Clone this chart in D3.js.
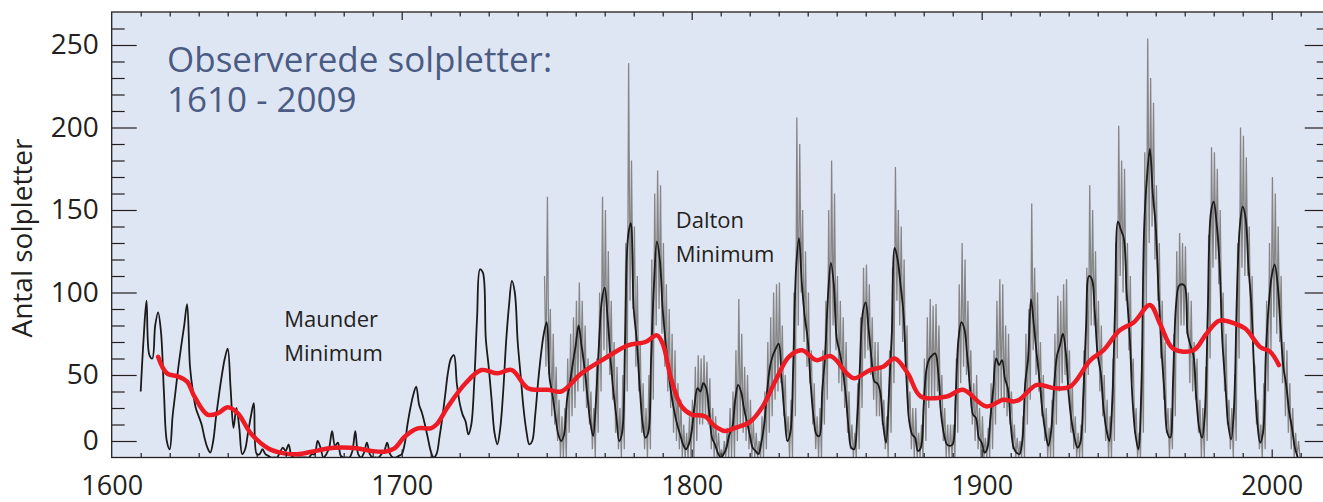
<!DOCTYPE html>
<html><head><meta charset="utf-8">
<script src="https://cdn.jsdelivr.net/npm/d3@7"></script>
<style>body{margin:0;background:#fff}svg{display:block}text{font-family:"Open Sans",sans-serif}</style>
</head><body><svg id="c" width="1323" height="502"></svg>
<script>
// ---------- DATA ----------
const blackStart = 1610;
const blackValues = [
 40,72,95,62,60,80,88,76,40,10,
 5,25,40,55,68,80,93,55,40,30,
 25,20,12,6,3,10,25,38,50,60,
 66,42,18,30,18,2,5,15,25,33,
 2,2,5,2,1,0,0,0,3,6,
 4,8,1,0,0,0,0,0,0,2,
 2,10,6,0,2,6,16,7,9,1,
 0,0,0,4,16,2,0,3,9,2,
 0,0,0,2,4,9,2,0,0,1,
 2,8,20,30,38,43,32,27,20,12,
 4,0,2,12,24,38,52,60,62,45,
 33,26,22,14,20,45,85,114,112,72,
 55,35,15,8,18,40,70,92,107,100,
 70,50,30,16,8,10,25,45,62,75,
 82,48,38,25,14,10,14,35,45,57,
 68,80,68,55,38,22,13,35,68,95,
 103,85,60,40,25,10,15,70,133,142,
 90,72,45,22,12,15,60,105,131,120,
 90,70,52,38,28,20,14,8,5,8,
 16,32,42,40,45,42,28,12,8,3,
 0,2,6,14,18,35,44,40,30,22,
 14,6,4,2,9,20,40,55,62,66,
 69,48,26,10,15,55,115,133,105,85,
 72,45,25,14,13,40,62,98,118,105,
 72,64,54,40,20,6,5,22,55,88,
 94,78,60,46,45,40,20,9,38,75,
 127,120,105,88,50,22,14,12,4,6,
 32,54,60,62,63,52,26,14,8,7,
 8,36,72,82,78,62,42,26,24,12,
 9,3,6,24,42,60,56,59,48,42,
 20,6,3,2,10,45,60,96,80,62,
 46,27,15,7,17,44,62,68,75,64,
 38,22,12,6,9,36,80,110,108,88,
 62,52,30,17,10,33,92,143,138,133,
 100,75,35,14,5,38,138,170,187,160,
 140,100,65,40,15,12,47,92,104,105,
 104,75,68,62,36,18,12,28,92,148,
 155,142,118,70,45,20,11,30,98,140,
 152,145,115,92,50,22,9,15,64,93,
 110,117,106,80,55,44,28,18,6,0
];

const grayStart = 1749;
const grayHigh = [110,
 158,90,75,55,35,25,30,60,75,85,
 95,106,95,80,60,40,30,60,100,158,
 150,125,95,70,55,30,50,130,239,180,
 140,110,70,45,30,50,120,160,174,165,
 130,105,90,75,65,45,35,20,15,25,
 35,55,62,60,62,58,48,30,25,15,
 5,10,18,30,40,65,96,75,55,50,
 35,22,15,10,25,40,70,85,100,105,
 106,80,50,25,35,100,206,190,150,125,
 100,65,45,25,30,65,95,150,180,160,
 110,95,85,70,40,20,15,45,85,115,
 117,105,85,70,70,55,35,25,65,115,
 176,150,140,120,80,40,30,30,15,20,
 60,85,96,92,93,80,50,30,20,20,
 20,60,105,130,120,95,65,45,50,30,
 25,12,18,45,65,95,108,105,80,75,
 40,20,12,10,25,75,90,154,115,100,
 70,50,30,18,35,75,98,95,105,108,
 65,45,25,15,20,65,115,165,150,125,
 95,80,50,35,25,60,130,201,180,175,
 130,110,60,30,15,65,185,254,230,215,
 165,130,95,70,30,30,75,125,136,130,
 128,100,95,70,60,35,30,55,135,188,
 185,175,150,100,75,35,30,50,130,200,
 195,182,140,110,55,35,20,45,95,130,
 170,160,140,110,70,65,45,30,15,10
];
const grayLow = [55,
 50,25,20,10,0,0,0,15,25,30,
 40,50,40,30,20,5,0,15,40,65,
 60,50,35,15,5,0,5,40,95,90,
 55,40,15,5,0,5,35,80,90,75,
 55,40,30,15,10,5,0,0,0,0,
 0,10,20,20,25,20,5,0,0,0,
 0,0,0,0,0,10,20,15,10,5,
 0,0,0,0,0,5,15,25,35,40,
 45,25,10,0,0,25,80,100,70,55,
 45,20,5,0,0,20,35,60,80,65,
 45,40,30,15,5,0,0,5,30,60,
 65,50,35,25,25,20,5,0,15,45,
 95,80,70,50,25,5,0,0,0,0,
 10,30,35,35,40,30,10,0,0,0,
 0,15,45,55,50,40,20,10,5,0,
 0,0,0,5,20,35,35,30,25,20,
 5,0,0,0,0,20,35,65,50,40,
 25,10,0,0,0,20,40,45,50,40,
 15,5,0,0,0,15,50,80,80,60,
 40,25,10,0,0,10,60,110,100,95,
 65,45,15,0,0,15,90,130,140,120,
 95,60,35,15,0,5,25,65,80,80,
 75,45,40,35,15,0,0,10,60,115,
 120,105,80,40,20,5,0,10,60,115,
 110,110,75,60,20,5,0,5,40,65,
 85,75,70,45,25,15,5,0,0,0
];

const redYears = [1616,1619,1623,1626,1628.5,1633,1636.5,1640,1643.5,1648,1654,1659.5,1664,1669,1674.5,1679,1685,1689.5,1694,1697.5,1701,1705.5,1710,1712,1716,1722,1727.5,1733,1738,1743.5,1750.5,1755,1762,1770,1778,1784,1788,1790,1793,1796.5,1800,1804.5,1808,1811.5,1815,1820,1824.5,1829,1833.5,1838,1843,1848,1853.5,1856,1861.5,1866,1870,1874.5,1879,1888,1893.5,1901.5,1907.5,1911,1913,1919,1925,1930.5,1937.5,1942,1947.5,1952.5,1958,1961.5,1966,1973,1977.5,1982,1987.5,1991,1996,1999.5,2002.5];
const redValues = [61,51,49,46,37,26,26.7,30.4,26.7,14.6,5.5,2.5,2,3.5,5.5,6,5.5,4,3.5,5.5,12.6,17.7,17.7,20,31,45,53,51,53,42,41,40,51,60,68,70,74,69,47,31,26,25,19,16,18,21.4,31,47,61,65,59,61.4,51,48,53,55,60,51,37,37,41,31,35,34,35,44,42,43,59,65,77,82,92.4,81,66,65,75,83,81,78,67,64,56];

const xTickYears = [1610,1620,1630,1640,1650,1660,1670,1680,1690,1700,1710,1720,1730,1740,1750,1760,1770,1780,1790,1800,1810,1820,1830,1840,1850,1860,1870,1880,1890,1900,1910,1920,1930,1940,1950,1960,1970,1980,1990,2000,2010];
const xMajorYears = [1600,1700,1800,1900,2000];
const xTickLabels = ["1600","1700","1800","1900","2000"];
const yMinorTicks = [20,30,40,60,70,80,90,110,120,130,140,160,170,180,190,210,220,230,240,260];
const yMajorTicks = [10,50,100,150,200,250];
const yTickLabels = ["0","50","100","150","200","250"];

const titleLines = ["Observerede solpletter:", "1610 - 2009"];
const yAxisTitle = "Antal solpletter";
const notes = [
  {year: 1659.5, value: 79, lines: ["Maunder", "Minimum"]},
  {year: 1794.5, value: 139, lines: ["Dalton", "Minimum"]}
];

// ---------- CHART ----------
const svg = d3.select("#c");
const x = d3.scaleLinear().domain([1600, 2020]).range([111.7, 1329.7]);
const y = d3.scaleLinear().domain([0, 270]).range([457.5, 12]);
const ink = "#231f20";
const X0 = x(1600), X1 = x(2020), Y0 = y(0), Y1 = y(270);

svg.append("rect").attr("x", X0).attr("y", Y1).attr("width", X1 - X0).attr("height", Y0 - Y1)
  .attr("fill", "#dfe6f3");

svg.append("clipPath").attr("id", "clip").append("rect")
  .attr("x", X0).attr("y", Y1).attr("width", X1 - X0).attr("height", Y0 - Y1);

const plot = svg.append("g").attr("clip-path", "url(#clip)");

// gray monthly envelope
const grayPts = [];
grayHigh.forEach((h, i) => {
  const yr = grayStart + i;
  grayPts.push([yr + 0.25, h]);
  grayPts.push([yr + 0.75, grayLow[i]]);
});
plot.append("path").datum(grayPts)
  .attr("fill", "none").attr("stroke", "#858585").attr("stroke-width", 1.3)
  .attr("stroke-linejoin", "miter")
  .attr("d", d3.line().x(d => x(d[0])).y(d => y(d[1])));

// black smoothed
const blackPts = blackValues.map((v, i) => [blackStart + i, v]);
plot.append("path").datum(blackPts)
  .attr("fill", "none").attr("stroke", "#1a1a1a").attr("stroke-width", 1.8)
  .attr("stroke-linejoin", "round")
  .attr("d", d3.line().x(d => x(d[0])).y(d => y(d[1])).curve(d3.curveCatmullRom.alpha(0.5)));

// red long-term
const redPts = redYears.map((yr, i) => [yr, redValues[i]]);
plot.append("path").datum(redPts)
  .attr("fill", "none").attr("stroke", "#ed1c24").attr("stroke-width", 4.5)
  .attr("stroke-linecap", "round").attr("stroke-linejoin", "round")
  .attr("d", d3.line().x(d => x(d[0])).y(d => y(d[1])).curve(d3.curveCatmullRom.alpha(0.5)));

// frame
svg.append("rect").attr("x", X0).attr("y", Y1).attr("width", X1 - X0).attr("height", Y0 - Y1)
  .attr("fill", "none").attr("stroke", ink).attr("stroke-width", 1.3);

function styleAxis(g) {
  g.select(".domain").remove();
  g.selectAll("line").attr("stroke", ink).attr("stroke-width", 1.2);
}
// left ticks (inward)
svg.append("g").attr("transform", `translate(${X0},0)`)
  .call(d3.axisRight(y).tickValues(yMinorTicks).tickSize(13).tickFormat("")).call(styleAxis);
svg.append("g").attr("transform", `translate(${X0},0)`)
  .call(d3.axisRight(y).tickValues(yMajorTicks).tickSize(25).tickFormat("")).call(styleAxis);
// right ticks (inward)
svg.append("g").attr("transform", `translate(${X1},0)`)
  .call(d3.axisLeft(y).tickValues(yMinorTicks).tickSize(13).tickFormat("")).call(styleAxis);
svg.append("g").attr("transform", `translate(${X1},0)`)
  .call(d3.axisLeft(y).tickValues(yMajorTicks).tickSize(25).tickFormat("")).call(styleAxis);
// left labels
const yl = svg.append("g").attr("transform", `translate(${X0},0)`)
  .call(d3.axisLeft(y).tickValues(yMajorTicks).tickSize(0).tickPadding(13)
    .tickFormat((d, i) => yTickLabels[i]));
yl.select(".domain").remove();
yl.selectAll("text").attr("font-size", 28).attr("fill", ink).attr("font-family", "Open Sans, sans-serif");

// top / bottom ticks
const xMinor = xTickYears.filter(d => !xMajorYears.includes(d));
const xMaj = xTickYears.filter(d => xMajorYears.includes(d));
svg.append("g").attr("transform", `translate(0,${Y1})`)
  .call(d3.axisBottom(x).tickValues(xMinor).tickSize(4.5).tickFormat("")).call(styleAxis);
svg.append("g").attr("transform", `translate(0,${Y1})`)
  .call(d3.axisBottom(x).tickValues(xMaj).tickSize(8).tickFormat("")).call(styleAxis);
svg.append("g").attr("transform", `translate(0,${Y0})`)
  .call(d3.axisTop(x).tickValues(xMinor).tickSize(4.5).tickFormat("")).call(styleAxis);
svg.append("g").attr("transform", `translate(0,${Y0})`)
  .call(d3.axisTop(x).tickValues(xMaj).tickSize(8).tickFormat("")).call(styleAxis);
const xl = svg.append("g").attr("transform", `translate(0,${Y0})`)
  .call(d3.axisBottom(x).tickValues(xMajorYears).tickSize(0).tickFormat((d, i) => xTickLabels[i]));
xl.select(".domain").remove();
xl.selectAll("text").attr("y", 37.5).attr("dy", null).attr("font-size", 27).attr("fill", ink)
  .attr("font-family", "Open Sans, sans-serif");

// y axis title
svg.append("text").attr("transform", "translate(32,238) rotate(-90)")
  .attr("text-anchor", "middle").attr("font-size", 28).attr("fill", ink).text(yAxisTitle);

// chart title
titleLines.forEach((s, i) => svg.append("text").attr("x", 167).attr("y", 71.5 + i * 40.5)
  .attr("font-size", 35).attr("fill", "#4a5b84").text(s));

// annotations
notes.forEach(n => {
  n.lines.forEach((s, i) => svg.append("text").attr("x", x(n.year)).attr("y", y(n.value) + i * 33.5)
    .attr("font-size", 22).attr("fill", ink).text(s));
});
</script></body></html>
